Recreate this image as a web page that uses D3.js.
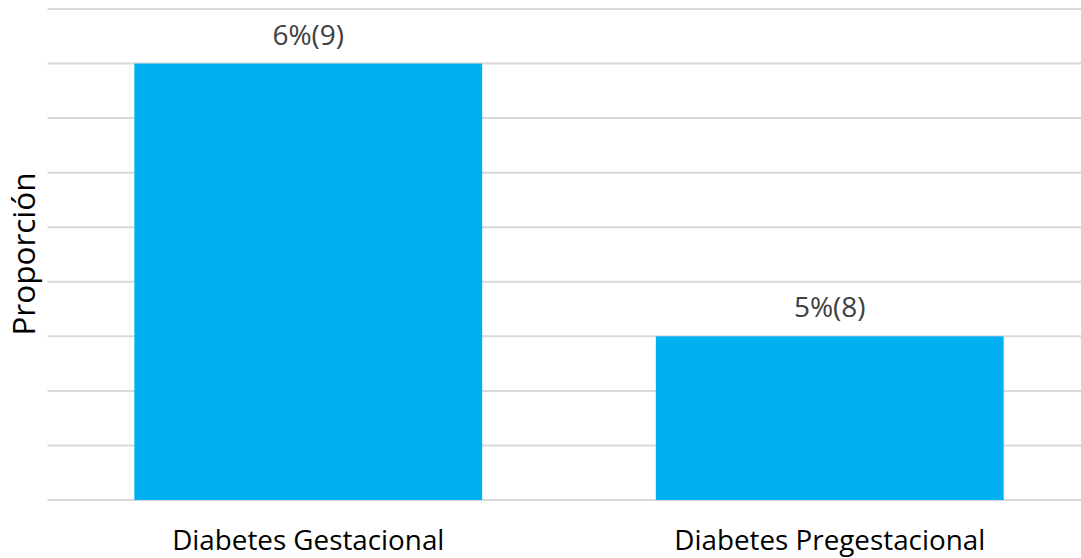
<!DOCTYPE html>
<html>
<head>
<meta charset="utf-8">
<script src="https://cdn.jsdelivr.net/npm/d3@7"></script>
<style>
  html, body { margin: 0; padding: 0; background: #ffffff; }
  svg { display: block; }
  text { font-family: "Open Sans", "Noto Sans", sans-serif; }
</style>
</head>
<body>
<svg id="chart" width="1081" height="558"></svg>
<script>
// Categories and values (percent) with counts shown in the labels
const categories = ["Diabetes Gestacional", "Diabetes Pregestacional"];
const percentValues = [6, 5];
const counts = [9, 8];
// Gridline values on the proportion axis
const gridTicks = [4.4, 4.6, 4.8, 5.0, 5.2, 5.4, 5.6, 5.8, 6.0, 6.2];

const svg = d3.select("#chart");
const plot = { left: 47.5, right: 1090.5, top: 9, bottom: 500 };

const x = d3.scaleBand()
  .domain(categories)
  .range([plot.left, plot.right])
  .paddingInner(0.333)
  .paddingOuter(0.1665);

const y = d3.scaleLinear()
  .domain([d3.min(gridTicks), d3.max(gridTicks)])
  .range([plot.bottom, plot.top]);

// Horizontal gridlines
svg.append("g")
  .selectAll("line")
  .data(gridTicks)
  .join("line")
  .attr("x1", plot.left)
  .attr("x2", plot.right)
  .attr("y1", d => y(d))
  .attr("y2", d => y(d))
  .attr("stroke", "#d9d9d9")
  .attr("stroke-width", 2);

// Bars
svg.append("g")
  .selectAll("rect")
  .data(categories)
  .join("rect")
  .attr("x", d => x(d))
  .attr("width", x.bandwidth())
  .attr("y", (d, i) => y(percentValues[i]))
  .attr("height", (d, i) => y(d3.min(gridTicks)) - y(percentValues[i]))
  .attr("fill", "#00b0f0");

// Value labels above bars
svg.append("g")
  .selectAll("text")
  .data(categories)
  .join("text")
  .attr("x", d => x(d) + x.bandwidth() / 2)
  .attr("y", (d, i) => y(percentValues[i]) - 19)
  .attr("text-anchor", "middle")
  .attr("font-size", 28)
  .attr("fill", "#404040")
  .text((d, i) => `${percentValues[i]}%(${counts[i]})`);

// Category axis labels
const xAxis = d3.axisBottom(x).tickSize(0).tickPadding(0);
const gx = svg.append("g")
  .attr("transform", `translate(0,${plot.bottom})`)
  .call(xAxis);
gx.select(".domain").remove();
gx.selectAll("text")
  .attr("dy", null)
  .attr("y", 49.5)
  .attr("font-size", 27.8)
  .attr("font-family", "\"Open Sans\", sans-serif")
  .attr("fill", "#000000");

// Y axis title
svg.append("text")
  .attr("transform", `translate(35,254) rotate(-90)`)
  .attr("text-anchor", "middle")
  .attr("font-size", 31.5)
  .attr("fill", "#000000")
  .text("Proporción");
</script>
</body>
</html>
